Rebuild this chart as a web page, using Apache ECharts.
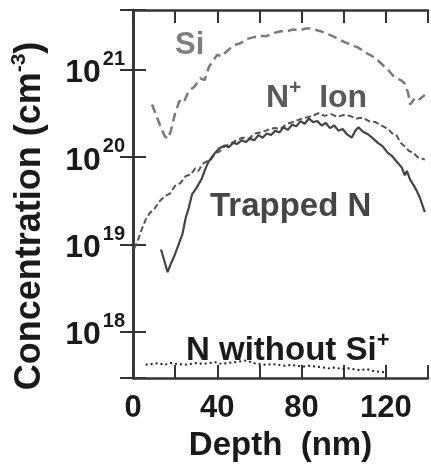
<!DOCTYPE html>
<html>
<head>
<meta charset="utf-8">
<script src="https://cdn.jsdelivr.net/npm/echarts@6/dist/echarts.min.js"></script>
<style>
html,body{margin:0;padding:0;background:#fff;overflow:hidden;width:431px;height:467px;}
#chart{width:431px;height:467px;}
</style>
</head>
<body>
<div id="chart"></div>
<script>
// ---- Data (depth in nm, concentration in cm^-3) ----
const xTicks = [0, 40, 80, 120];
const yTicks = [1e18, 1e19, 1e20, 1e21];

const siDepth = [9, 11, 13, 15, 16.5, 18, 20, 22, 24, 26.5, 29, 32, 34, 36, 38, 40, 42, 44, 46, 48, 51, 54, 57, 60, 63, 67, 70, 73, 76, 79, 82, 84, 86, 89, 92, 95, 98, 101, 104, 107, 110, 113, 116, 119, 121, 123, 125, 127, 129, 130.5, 131.5, 132.5, 134, 136, 138.5];
const siConc = [3.98e20, 3.02e20, 2.24e20, 1.74e20, 1.62e20, 2.0e20, 3.16e20, 4.37e20, 4.17e20, 5.75e20, 6.31e20, 7.94e20, 7.59e20, 1.07e21, 1.26e21, 1.48e21, 1.41e21, 1.58e21, 1.74e21, 1.91e21, 2.0e21, 2.24e21, 2.34e21, 2.45e21, 2.40e21, 2.63e21, 2.75e21, 2.75e21, 2.88e21, 2.82e21, 2.95e21, 2.95e21, 2.88e21, 2.75e21, 2.57e21, 2.40e21, 2.19e21, 2.04e21, 1.91e21, 1.78e21, 1.58e21, 1.45e21, 1.29e21, 1.10e21, 1.0e21, 8.71e20, 7.94e20, 7.59e20, 6.92e20, 5.50e20, 3.98e20, 4.27e20, 4.79e20, 4.57e20, 5.13e20];

const ionDepth = [0.5, 2, 4, 6, 8, 10, 12.5, 15, 17.5, 20, 22.5, 25, 27.5, 29.5, 31, 33, 35, 37, 39, 41, 43.5, 46, 49, 52, 55, 58, 61, 64, 67, 70, 73, 76, 79, 82, 85, 88, 91, 94, 97, 100, 103, 106, 109, 112, 115, 118, 121, 123, 125, 127, 129, 131, 133, 135, 138.5];
const ionConc = [8.91e18, 1.05e19, 1.45e19, 1.91e19, 2.29e19, 2.51e19, 3.09e19, 3.55e19, 3.80e19, 4.68e19, 5.01e19, 6.03e19, 6.31e19, 7.41e19, 6.92e19, 8.32e19, 8.91e19, 9.33e19, 1.10e20, 1.15e20, 1.32e20, 1.41e20, 1.55e20, 1.66e20, 1.62e20, 1.86e20, 1.91e20, 2.04e20, 2.14e20, 2.09e20, 2.40e20, 2.51e20, 2.69e20, 2.82e20, 2.95e20, 3.16e20, 2.95e20, 3.09e20, 2.88e20, 3.02e20, 2.95e20, 2.75e20, 2.82e20, 2.57e20, 2.51e20, 2.29e20, 2.09e20, 1.86e20, 1.78e20, 1.45e20, 1.32e20, 1.17e20, 1.12e20, 1.0e20, 9.33e19];

const trapDepth = [13.3, 15, 16.4, 18, 19.5, 21.8, 23.5, 25, 26.5, 28, 30, 32.6, 34, 35.7, 37.5, 39, 41, 43.5, 45.5, 47.5, 49.5, 51.5, 53.5, 55.5, 57.5, 59.5, 61.5, 63.5, 65.5, 67.5, 69.5, 71.5, 73.5, 75.5, 77.5, 79.5, 81.5, 83.5, 85.5, 87.5, 89.5, 91.5, 93.5, 95.5, 97.5, 99.5, 101.5, 103.8, 105.5, 107, 109, 111.5, 114, 116.2, 118.5, 120.8, 123, 125.4, 127.5, 129, 130, 131.5, 133.1, 134.5, 136.2, 138.5];
const trapConc = [8.71e18, 6.31e18, 4.79e18, 6.03e18, 7.24e18, 1.02e19, 1.32e19, 2.0e19, 2.63e19, 3.72e19, 4.37e19, 5.62e19, 6.92e19, 8.71e19, 1.0e20, 1.12e20, 1.26e20, 1.35e20, 1.29e20, 1.45e20, 1.41e20, 1.55e20, 1.48e20, 1.62e20, 1.55e20, 1.78e20, 1.66e20, 1.86e20, 1.78e20, 2.0e20, 1.91e20, 2.19e20, 2.04e20, 2.34e20, 2.24e20, 2.57e20, 2.40e20, 2.75e20, 2.51e20, 2.57e20, 2.29e20, 2.45e20, 2.14e20, 2.29e20, 2.0e20, 2.09e20, 1.82e20, 1.66e20, 2.0e20, 2.19e20, 1.95e20, 1.82e20, 1.62e20, 1.45e20, 1.32e20, 1.12e20, 1.02e20, 8.71e19, 7.59e19, 6.17e19, 6.92e19, 5.50e19, 4.79e19, 4.17e19, 3.39e19, 2.34e19];

const noSiDepth = [6, 9, 12, 15, 18, 21, 24, 27, 30, 33, 36, 39, 42, 45, 48, 51, 54, 57, 60, 63, 66, 69, 72, 75, 78, 81, 84, 87, 90, 93, 96, 99, 102, 105, 108, 111, 114, 117, 120.5];
const noSiConc = [4.17e17, 4.27e17, 4.37e17, 4.17e17, 4.37e17, 4.27e17, 4.17e17, 4.27e17, 4.37e17, 4.27e17, 4.37e17, 4.47e17, 4.27e17, 4.37e17, 4.47e17, 4.57e17, 4.68e17, 4.37e17, 4.27e17, 4.17e17, 4.27e17, 4.17e17, 4.07e17, 4.17e17, 4.07e17, 3.98e17, 4.07e17, 3.98e17, 3.89e17, 3.80e17, 3.89e17, 3.72e17, 3.80e17, 3.72e17, 3.63e17, 3.72e17, 3.55e17, 3.47e17, 3.39e17];

const FONT = '"Liberation Sans", Arial, sans-serif';
const FRAME = '#333333';

function pairs(xs, ys) { return xs.map((x, i) => [x, ys[i]]); }

const chart = echarts.init(document.getElementById('chart'), null, {renderer: 'canvas', width: 431, height: 467});

const xBase = {
  type: 'value', min: 0, max: 140, interval: 20,
  axisLine: {show: true, onZero: false, lineStyle: {color: FRAME, width: 2.5}},
  axisTick: {show: true, inside: true, length: 13, lineStyle: {color: FRAME, width: 2}},
  splitLine: {show: false}
};
const yBase = {
  type: 'log', logBase: 10, min: 2.94e17, max: 4.81e21, splitNumber: 4,
  axisLine: {show: true, lineStyle: {color: FRAME, width: 2.5}},
  axisTick: {show: true, inside: true, length: 13, lineStyle: {color: FRAME, width: 2}},
  splitLine: {show: false}
};

function isTick(v, list) {
  return list.some(t => Math.abs(Math.log10(v) - Math.log10(t)) < 1e-6);
}

const option = {
  animation: false,
  backgroundColor: '#ffffff',
  grid: {left: 133, right: -4, top: 10, bottom: 79, containLabel: false},
  xAxis: [
    Object.assign({}, xBase, {
      position: 'bottom',
      name: 'Depth  (nm)', nameLocation: 'middle', nameGap: 47,
      nameTextStyle: {fontFamily: FONT, fontWeight: 'bold', fontSize: 33, color: '#1a1a1a'},
      axisLabel: {
        show: true, margin: 15, fontFamily: FONT, fontWeight: 'bold', fontSize: 31, color: '#1a1a1a',
        formatter: v => (xTicks.indexOf(v) >= 0 ? String(v) : '')
      }
    }),
    Object.assign({}, xBase, {position: 'top', axisLabel: {show: false}})
  ],
  yAxis: [
    Object.assign({}, yBase, {
      position: 'left',
      axisLabel: {
        show: true, margin: 8,
        formatter: v => isTick(v, yTicks) ? '{b|10}{s|' + Math.round(Math.log10(v)) + '}' : '',
        rich: {
          b: {fontFamily: FONT, fontWeight: 'bold', fontSize: 32, color: '#1a1a1a', lineHeight: 40, verticalAlign: 'bottom'},
          s: {fontFamily: FONT, fontWeight: 'bold', fontSize: 20, color: '#1a1a1a', lineHeight: 14, verticalAlign: 'top', padding: [0, 0, 0, 2]}
        }
      }
    }),
    Object.assign({}, yBase, {position: 'right', axisLabel: {show: false}})
  ],
  graphic: [
    {
      type: 'text', x: 30, y: 216, rotation: Math.PI / 2,
      style: {
        text: 'Concentration (cm{s|-3})', align: 'center', verticalAlign: 'middle',
        fontFamily: FONT, fontWeight: 'bold', fontSize: 36, fill: '#1a1a1a', lineHeight: 42,
        rich: {s: {fontFamily: FONT, fontWeight: 'bold', fontSize: 21, fill: '#1a1a1a', lineHeight: 20, verticalAlign: 'top'}}
      }
    },
    {
      type: 'text', x: 175, y: 45,
      style: {text: 'Si', align: 'left', verticalAlign: 'middle', fontFamily: FONT, fontWeight: 'bold', fontSize: 31, fill: '#7f7f7f'}
    },
    {
      type: 'text', x: 266, y: 98,
      style: {
        text: 'N{s|+}  Ion', align: 'left', verticalAlign: 'middle', fontFamily: FONT, fontWeight: 'bold', fontSize: 32, fill: '#5a5a5a', lineHeight: 40,
        rich: {s: {fontFamily: FONT, fontWeight: 'bold', fontSize: 21, fill: '#5a5a5a', lineHeight: 20, verticalAlign: 'top'}}
      }
    },
    {
      type: 'text', x: 210, y: 207,
      style: {text: 'Trapped N', align: 'left', verticalAlign: 'middle', fontFamily: FONT, fontWeight: 'bold', fontSize: 33, fill: '#454545'}
    },
    {
      type: 'text', x: 186, y: 351,
      style: {
        text: 'N without Si{s|+}', align: 'left', verticalAlign: 'middle', fontFamily: FONT, fontWeight: 'bold', fontSize: 33, fill: '#1a1a1a', lineHeight: 42,
        rich: {s: {fontFamily: FONT, fontWeight: 'bold', fontSize: 22, fill: '#1a1a1a', lineHeight: 22, verticalAlign: 'top'}}
      }
    }
  ],
  series: [
    {
      name: 'Si', type: 'line', xAxisIndex: 0, yAxisIndex: 0, symbol: 'none', smooth: false,
      data: pairs(siDepth, siConc),
      lineStyle: {color: '#7a7a7a', width: 2.5, type: [9, 5]}
    },
    {
      name: 'N+ Ion', type: 'line', xAxisIndex: 0, yAxisIndex: 0, symbol: 'none',
      data: pairs(ionDepth, ionConc),
      lineStyle: {color: '#555555', width: 2, type: [6, 3]}
    },
    {
      name: 'Trapped N', type: 'line', xAxisIndex: 0, yAxisIndex: 0, symbol: 'none',
      data: pairs(trapDepth, trapConc),
      lineStyle: {color: '#444444', width: 2.2, type: 'solid'}
    },
    {
      name: 'N without Si+', type: 'line', xAxisIndex: 0, yAxisIndex: 0, symbol: 'none',
      data: pairs(noSiDepth, noSiConc),
      lineStyle: {color: '#222222', width: 2, type: [2, 3]}
    }
  ]
};
chart.setOption(option);
</script>
</body>
</html>
